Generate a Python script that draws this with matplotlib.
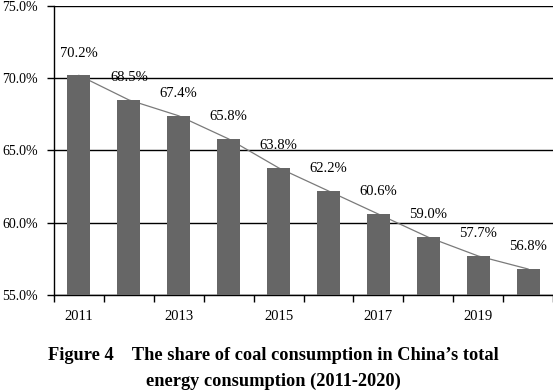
import matplotlib
matplotlib.use("Agg")
import matplotlib.pyplot as plt
from matplotlib.ticker import FixedLocator, FuncFormatter

years = [2011, 2012, 2013, 2014, 2015, 2016, 2017, 2018, 2019, 2020]
share = [70.2, 68.5, 67.4, 65.8, 63.8, 62.2, 60.6, 59.0, 57.7, 56.8]
year_labels = ['2011', '', '2013', '', '2015', '', '2017', '', '2019', '']

plt.rcParams['font.family'] = ['Liberation Serif', 'DejaVu Serif']

fig = plt.figure(figsize=(5.53, 3.90), dpi=100)
ax = fig.add_axes([54/553, 1-295/390, 1-54/553, (295-6)/390])

x = list(range(len(years)))
ax.plot(x, share, color='#7a7a7a', lw=0.9, zorder=2)
ax.bar(x, share, width=0.46, color='#666666', zorder=3)

for xi, v in zip(x, share):
    ax.annotate('%.1f%%' % v, (xi, v), xytext=(0, 16), textcoords='offset points',
                ha='center', va='center', fontsize=10.5, zorder=4)

ax.set_ylim(55, 75)
ax.set_xlim(-0.5, 9.5)
ax.set_yticks([55, 60, 65, 70, 75])
ax.yaxis.set_major_formatter(FuncFormatter(lambda v, p: '%.1f%%' % v))
ax.grid(axis='y', color='black', lw=1, zorder=1)

ax.xaxis.set_major_locator(FixedLocator([i - 0.5 for i in range(11)]))
ax.xaxis.set_minor_locator(FixedLocator(x))
ax.set_xticklabels([], minor=False)
ax.set_xticklabels(year_labels, minor=True)
ax.tick_params(axis='x', which='major', length=5, width=1, direction='out')
ax.tick_params(axis='x', which='minor', length=0, pad=11, labelsize=10.5)
ax.tick_params(axis='y', length=5, width=1, labelsize=10, pad=6.5)

for s in ['top', 'right']:
    ax.spines[s].set_visible(False)
ax.spines['left'].set_linewidth(1)
ax.spines['bottom'].set_linewidth(1)

fig.text(0.494, 1-368.5/390, 'Figure 4    The share of coal consumption in China\u2019s total\nenergy consumption (2011-2020)',
         ha='center', va='center', fontsize=13.2, fontweight='bold', linespacing=1.6)

fig.savefig('out.png', dpi=100)
